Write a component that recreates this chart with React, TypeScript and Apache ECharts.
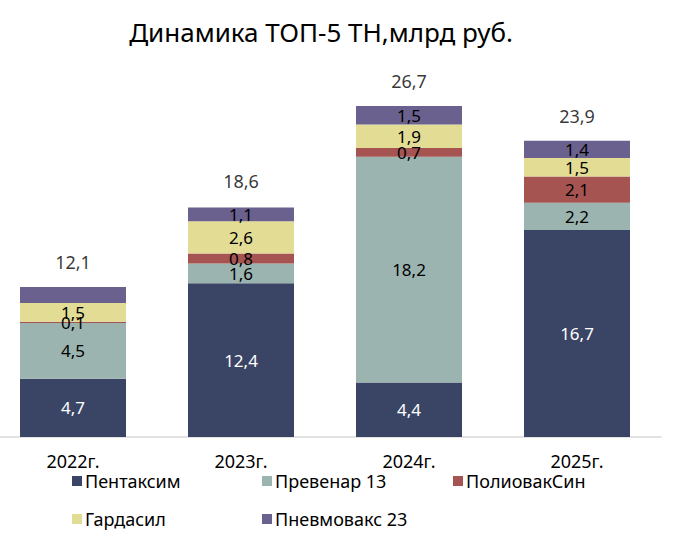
import React, { useEffect, useRef } from "react";
import * as echarts from "echarts";

const categories = ["2022г.", "2023г.", "2024г.", "2025г."];
const pentaxim = [4.7, 12.4, 4.4, 16.7];
const prevenar = [4.5, 1.6, 18.2, 2.2];
const poliovak = [0.1, 0.8, 0.7, 2.1];
const gardasil = [1.5, 2.6, 1.9, 1.5];
const pnevmovax = [1.3, 1.1, 1.5, 1.4];
const totals = [12.1, 18.6, 26.7, 23.9];
const hiddenLabels: Record<string, number[]> = { "Пневмовакс 23": [0] };

const FONT = "'Noto Sans', sans-serif";
const fmt = (v: number) => String(v).replace(".", ",");

export default function App() {
  const ref = useRef<HTMLDivElement>(null);
  useEffect(() => {
    const chart = echarts.init(ref.current!, null, { renderer: "svg" });
    const mk = (name: string, data: number[], color: string, labelColor: string) => ({
      name,
      type: "bar",
      stack: "total",
      barWidth: 106,
      itemStyle: { color },
      label: {
        show: true,
        position: "inside",
        color: labelColor,
        fontFamily: FONT,
        fontSize: 17,
        formatter: (p: any) => fmt(p.value),
      },
      data: data.map((v, i) =>
        (hiddenLabels[name] || []).includes(i) ? { value: v, label: { show: false } } : v
      ),
    });
    const legendText = { fontFamily: FONT, fontSize: 18, color: "#000", padding: [0, 0, 0, -2] };
    const legendBase = {
      orient: "vertical",
      top: 467,
      itemWidth: 10,
      itemHeight: 10,
      itemGap: 20,
      icon: "rect",
      textStyle: legendText,
    };
    chart.setOption({
      animation: false,
      title: {
        text: "Динамика ТОП-5 ТН,млрд руб.",
        left: 327,
        textAlign: "center",
        top: 14,
        textStyle: { fontFamily: FONT, fontSize: 26, fontWeight: "normal", color: "#000" },
      },
      legend: [
        { ...legendBase, left: 78, data: ["Пентаксим", "Гардасил"] },
        { ...legendBase, left: 268, data: ["Превенар 13", "Пневмовакс 23"] },
        { ...legendBase, left: 459, data: ["ПолиовакСин"] },
      ],
      grid: { left: 0, right: 13, top: 65, bottom: 111 },
      xAxis: {
        type: "category",
        data: categories,
        axisLine: { lineStyle: { color: "#d9d9d9", width: 1.5 } },
        axisTick: { show: false },
        axisLabel: { color: "#000", fontFamily: FONT, fontSize: 18, margin: 15 },
      },
      yAxis: { type: "value", min: 0, max: 30, show: false, splitLine: { show: false } },
      series: [
        mk("Пентаксим", pentaxim, "#3a4566", "#ffffff"),
        mk("Превенар 13", prevenar, "#9bb4b0", "#000000"),
        mk("ПолиовакСин", poliovak, "#a55451", "#000000"),
        mk("Гардасил", gardasil, "#e2dc95", "#000000"),
        mk("Пневмовакс 23", pnevmovax, "#6a618f", "#000000"),
        {
          name: "Итого",
          type: "scatter",
          symbolSize: 0,
          data: totals,
          label: {
            show: true,
            position: "top",
            distance: 16,
            color: "#000",
            fontFamily: FONT,
            fontSize: 18,
            formatter: (p: any) => fmt(p.value),
          },
        },
      ],
    });
    return () => chart.dispose();
  }, []);
  return (
    <div
      ref={ref}
      style={{ position: "fixed", left: -11, top: 0, width: 685, height: 548, background: "#fff" }}
    />
  );
}
